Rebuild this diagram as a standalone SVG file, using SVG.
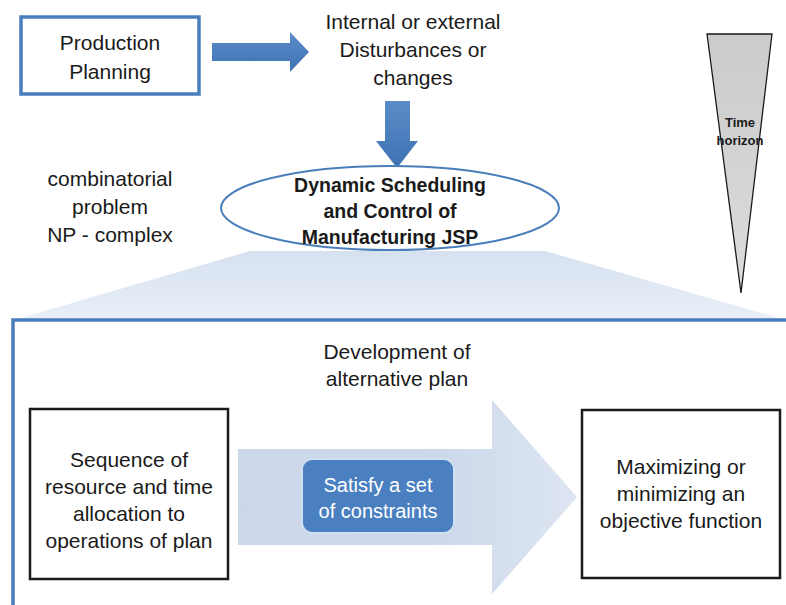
<svg xmlns="http://www.w3.org/2000/svg" width="786" height="605" viewBox="0 0 786 605">
<defs>
<style>
.t{font-family:"Liberation Sans",Arial,sans-serif;font-size:21px;fill:#1a1a1a;text-anchor:middle}
.b{font-weight:bold;font-size:19.5px}
.box{fill:#fff;stroke:#1a1a1a;stroke-width:2.5}
.blue{fill:#fff;stroke:#4a7ebb;stroke-width:3.5}
</style>
<linearGradient id="ga" x1="0" y1="0" x2="0" y2="1">
<stop offset="0" stop-color="#5a8cc8"/><stop offset="1" stop-color="#3f72b2"/>
</linearGradient>
<linearGradient id="gtri" x1="0" y1="0" x2="0" y2="1">
<stop offset="0" stop-color="#cbcbcb"/><stop offset="1" stop-color="#dcdcdc"/>
</linearGradient>
<linearGradient id="gsh" x1="0" y1="0" x2="0" y2="1">
<stop offset="0" stop-color="#d6e1f0"/><stop offset="1" stop-color="#e9eff8"/>
</linearGradient>
<linearGradient id="gbig" x1="0" y1="0" x2="1" y2="0">
<stop offset="0" stop-color="#ccd8ea"/><stop offset="0.6" stop-color="#cdd9eb"/><stop offset="1" stop-color="#dde5f1"/>
</linearGradient>
</defs>
<rect width="786" height="605" fill="#fff"/>

<g id="shade">
<polygon points="14,320 250,251 545,251 786,320" fill="url(#gsh)"/>
</g>

<g id="frame">
<rect class="blue" x="13" y="320" width="790" height="300"/>
</g>

<g id="time-horizon">
<polygon points="707,34 772,34 741,293" fill="url(#gtri)" stroke="#1a1a1a" stroke-width="1.3"/>
<text class="t b" x="740" y="127" style="font-size:13px">Time</text>
<text class="t b" x="740" y="145" style="font-size:13px">horizon</text>
</g>

<g id="connectors">
<polygon points="212,43 290,43 290,32 309,52 290,72 290,61 212,61" fill="url(#ga)"/>
<polygon points="385,101 410,101 410,141 418,141 397,168 376,141 385,141" fill="url(#ga)"/>
<polygon points="238,449 492,449 492,400 577,497 492,594 492,545 238,545" fill="url(#gbig)"/>
</g>

<g id="production-planning">
<rect class="blue" x="21" y="17" width="178" height="77"/>
<text class="t" x="110" y="50">Production</text>
<text class="t" x="110" y="79">Planning</text>
</g>

<g id="disturbances">
<text class="t" x="413" y="29">Internal or external</text>
<text class="t" x="413" y="57">Disturbances or</text>
<text class="t" x="413" y="85">changes</text>
</g>

<g id="np-complex">
<text class="t" x="110" y="186">combinatorial</text>
<text class="t" x="110" y="214">problem</text>
<text class="t" x="110" y="242">NP - complex</text>
</g>

<g id="dynamic-scheduling">
<ellipse cx="390" cy="208" rx="169" ry="42" fill="#fff" stroke="#4a7ebb" stroke-width="2"/>
<text class="t b" x="390" y="192">Dynamic Scheduling</text>
<text class="t b" x="390" y="218">and Control of</text>
<text class="t b" x="390" y="244">Manufacturing JSP</text>
</g>

<g id="development">
<text class="t" x="397" y="359">Development of</text>
<text class="t" x="397" y="386">alternative plan</text>
</g>

<g id="sequence">
<rect class="box" x="30" y="409" width="198" height="170"/>
<text class="t" x="129" y="467">Sequence of</text>
<text class="t" x="129" y="494">resource and time</text>
<text class="t" x="129" y="521">allocation to</text>
<text class="t" x="129" y="548">operations of plan</text>
</g>

<g id="constraints">
<rect x="302" y="459" width="152" height="74" rx="10" fill="#4a7fc0" stroke="#cfe0f3" stroke-width="2"/>
<text class="t" x="378" y="492" style="fill:#fff;font-size:20px">Satisfy a set</text>
<text class="t" x="378" y="518" style="fill:#fff;font-size:20px">of constraints</text>
</g>

<g id="objective">
<rect class="box" x="582" y="410" width="198" height="168"/>
<text class="t" x="681" y="474">Maximizing or</text>
<text class="t" x="681" y="501">minimizing an</text>
<text class="t" x="681" y="528">objective function</text>
</g>
</svg>
